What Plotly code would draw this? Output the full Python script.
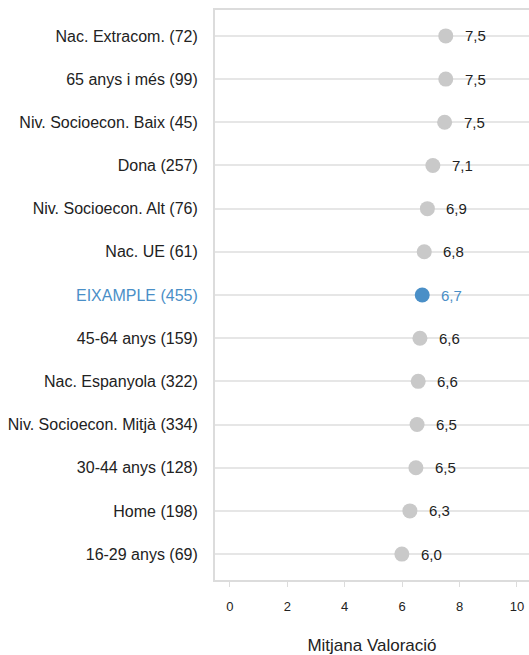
import plotly.graph_objects as go

categories = [
    "Nac. Extracom. (72)", "65 anys i més (99)", "Niv. Socioecon. Baix (45)",
    "Dona (257)", "Niv. Socioecon. Alt (76)", "Nac. UE (61)", "EIXAMPLE (455)",
    "45-64 anys (159)", "Nac. Espanyola (322)", "Niv. Socioecon. Mitjà (334)",
    "30-44 anys (128)", "Home (198)", "16-29 anys (69)",
]
values = [7.52, 7.52, 7.48, 7.07, 6.88, 6.77, 6.70, 6.62, 6.56, 6.52, 6.48, 6.27, 5.99]
highlight = "EIXAMPLE (455)"
x_ticks = [0, 2, 4, 6, 8, 10]

GRAY = "#c9c9c9"
BLUE = "#4a8fc7"
FONT = "Liberation Sans, Arial, sans-serif"

colors = [BLUE if c == highlight else GRAY for c in categories]

fig = go.Figure()
fig.add_trace(go.Scatter(
    x=values, y=categories, mode="markers",
    marker=dict(size=15, color=colors, line=dict(width=0)),
    hoverinfo="skip", showlegend=False,
))

for c, v in zip(categories, values):
    fig.add_annotation(
        x=v, y=c, text=f"{v:.1f}".replace(".", ","), showarrow=False,
        xanchor="left", yanchor="middle", xshift=17,
        font=dict(family=FONT, size=15, color=BLUE if c == highlight else "#222222"),
    )

ticktext = [f'<span style="color:{BLUE}">{c}</span>' if c == highlight else c for c in categories]

fig.update_layout(
    width=529, height=655,
    margin=dict(l=215, r=0, t=10, b=75),
    plot_bgcolor="white", paper_bgcolor="white",
    font=dict(family=FONT, color="#222222"),
    xaxis=dict(
        range=[-0.52, 10.42], tickvals=x_ticks, ticktext=[str(t) for t in x_ticks],
        showgrid=False, zeroline=False,
        showline=True, linecolor="#dcdcdc", linewidth=2, mirror=True,
        ticks="outside", ticklen=5, tickcolor="#dcdcdc", tickwidth=1,
        ticklabelstandoff=8,
        tickfont=dict(size=13, color="#222222"),
        title=dict(text="Mitjana Valoració", font=dict(size=17, color="#222222"), standoff=30),
    ),
    yaxis=dict(
        categoryorder="array", categoryarray=categories[::-1],
        tickvals=categories, ticktext=ticktext,
        range=[-0.6, 12.6],
        showgrid=True, gridcolor="#e6e6e6", gridwidth=2,
        zeroline=False,
        showline=True, linecolor="#dcdcdc", linewidth=2,
        ticks="", ticklabelstandoff=12,
        tickfont=dict(size=16, color="#222222"),
    ),
)

fig.write_html(
    "out.html",
    config={"displayModeBar": False},
    post_script="document.body.style.margin='0px';document.body.style.overflow='hidden';",
)
